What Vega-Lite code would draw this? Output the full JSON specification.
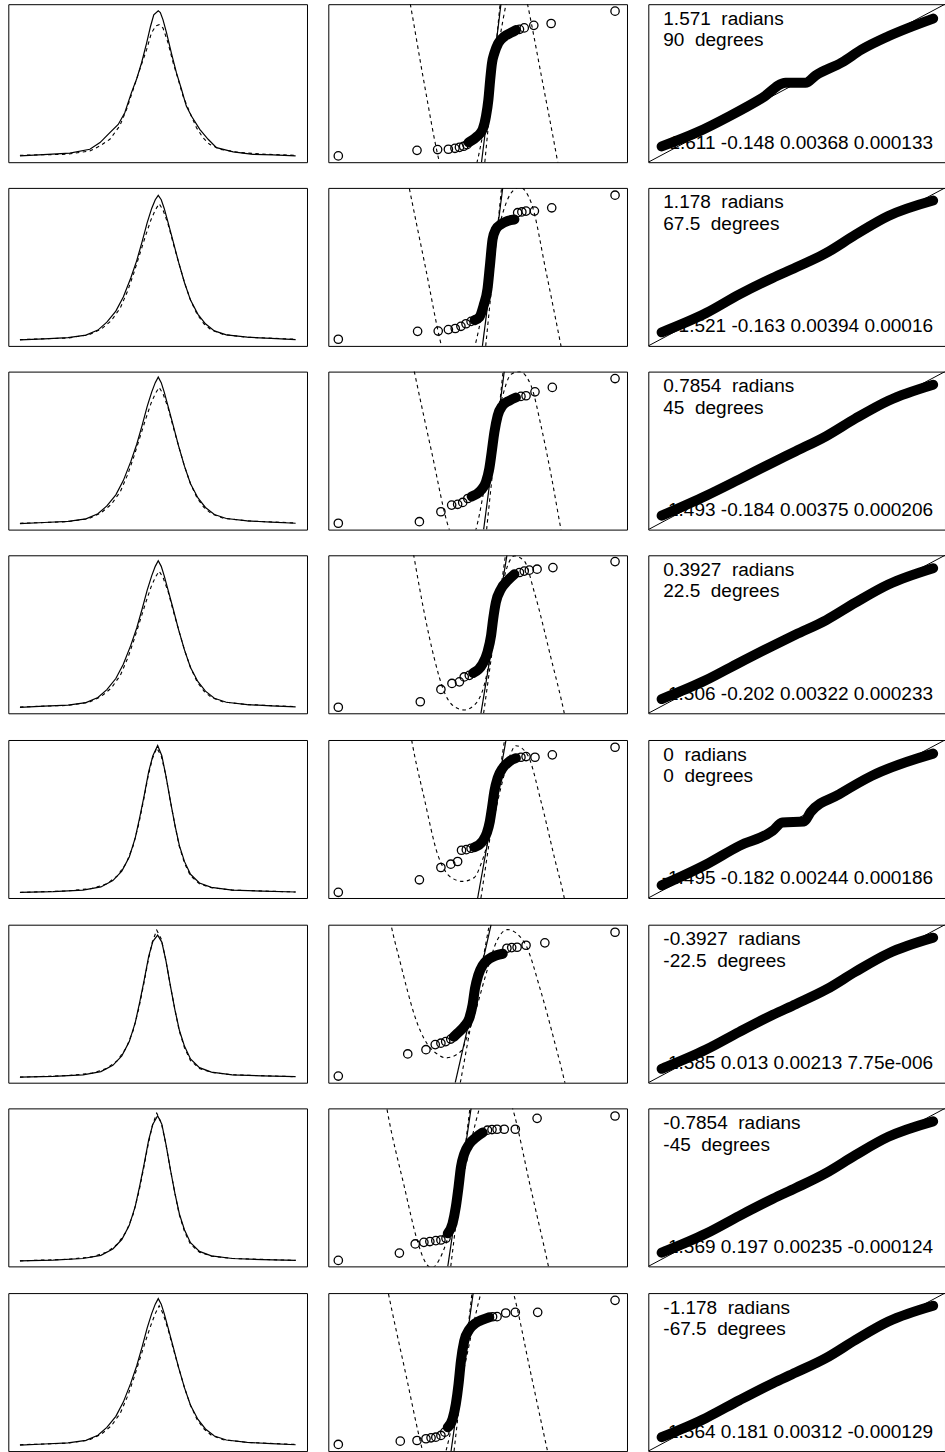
{
"$schema": "https://vega.github.io/schema/vega-lite/v6.json",
"background": "white",
"padding": {"left": 7.3, "top": 3.2, "right": 0, "bottom": 0},
"spacing": 23.7,
"config": {"view": {"stroke": "#000", "strokeWidth": 1}, "line": {"color": "#000"}, "point": {"color": "#000"}, "text": {"font": "Liberation Sans", "fontSize": 19, "baseline": "alphabetic", "color": "#000"}},
"datasets": {
"c1": [
{"r":1,"k":"s","x":0.039,"y":0.040},{"r":1,"k":"s","x":0.117,"y":0.048},{"r":1,"k":"s","x":0.206,"y":0.057},{"r":1,"k":"s","x":0.273,"y":0.082},{"r":1,"k":"s","x":0.307,"y":0.124},{"r":1,"k":"s","x":0.34,"y":0.187},{"r":1,"k":"s","x":0.368,"y":0.239},{"r":1,"k":"s","x":0.39,"y":0.313},{"r":1,"k":"s","x":0.412,"y":0.439},{"r":1,"k":"s","x":0.429,"y":0.523},{"r":1,"k":"s","x":0.446,"y":0.628},{"r":1,"k":"s","x":0.463,"y":0.754},{"r":1,"k":"s","x":0.476,"y":0.859},{"r":1,"k":"s","x":0.487,"y":0.933},{"r":1,"k":"s","x":0.502,"y":0.958},{"r":1,"k":"s","x":0.509,"y":0.947},{"r":1,"k":"s","x":0.518,"y":0.901},{"r":1,"k":"s","x":0.53,"y":0.817},{"r":1,"k":"s","x":0.546,"y":0.691},{"r":1,"k":"s","x":0.563,"y":0.565},{"r":1,"k":"s","x":0.58,"y":0.46},{"r":1,"k":"s","x":0.596,"y":0.355},{"r":1,"k":"s","x":0.613,"y":0.292},{"r":1,"k":"s","x":0.641,"y":0.208},{"r":1,"k":"s","x":0.669,"y":0.145},{"r":1,"k":"s","x":0.697,"y":0.092},{"r":1,"k":"s","x":0.753,"y":0.065},{"r":1,"k":"s","x":0.819,"y":0.05},{"r":1,"k":"s","x":0.886,"y":0.046},{"r":1,"k":"s","x":0.962,"y":0.04},
{"r":1,"k":"d","x":0.039,"y":0.044},{"r":1,"k":"d","x":0.195,"y":0.05},{"r":1,"k":"d","x":0.273,"y":0.071},{"r":1,"k":"d","x":0.307,"y":0.103},{"r":1,"k":"d","x":0.34,"y":0.145},{"r":1,"k":"d","x":0.373,"y":0.229},{"r":1,"k":"d","x":0.396,"y":0.334},{"r":1,"k":"d","x":0.418,"y":0.46},{"r":1,"k":"d","x":0.44,"y":0.586},{"r":1,"k":"d","x":0.463,"y":0.712},{"r":1,"k":"d","x":0.479,"y":0.817},{"r":1,"k":"d","x":0.494,"y":0.863},{"r":1,"k":"d","x":0.505,"y":0.87},{"r":1,"k":"d","x":0.518,"y":0.849},{"r":1,"k":"d","x":0.535,"y":0.754},{"r":1,"k":"d","x":0.552,"y":0.628},{"r":1,"k":"d","x":0.569,"y":0.523},{"r":1,"k":"d","x":0.585,"y":0.418},{"r":1,"k":"d","x":0.608,"y":0.313},{"r":1,"k":"d","x":0.63,"y":0.218},{"r":1,"k":"d","x":0.652,"y":0.155},{"r":1,"k":"d","x":0.674,"y":0.113},{"r":1,"k":"d","x":0.708,"y":0.082},{"r":1,"k":"d","x":0.775,"y":0.061},{"r":1,"k":"d","x":0.864,"y":0.05},{"r":1,"k":"d","x":0.962,"y":0.044},

{"r":2,"k":"s","x":0.039,"y":0.038},{"r":2,"k":"s","x":0.12,"y":0.045},{"r":2,"k":"s","x":0.2,"y":0.052},{"r":2,"k":"s","x":0.26,"y":0.068},{"r":2,"k":"s","x":0.3,"y":0.1},{"r":2,"k":"s","x":0.33,"y":0.15},{"r":2,"k":"s","x":0.36,"y":0.22},{"r":2,"k":"s","x":0.385,"y":0.31},{"r":2,"k":"s","x":0.41,"y":0.43},{"r":2,"k":"s","x":0.43,"y":0.54},{"r":2,"k":"s","x":0.448,"y":0.66},{"r":2,"k":"s","x":0.465,"y":0.78},{"r":2,"k":"s","x":0.48,"y":0.87},{"r":2,"k":"s","x":0.492,"y":0.925},{"r":2,"k":"s","x":0.502,"y":0.953},{"r":2,"k":"s","x":0.512,"y":0.925},{"r":2,"k":"s","x":0.522,"y":0.87},{"r":2,"k":"s","x":0.535,"y":0.78},{"r":2,"k":"s","x":0.552,"y":0.66},{"r":2,"k":"s","x":0.57,"y":0.53},{"r":2,"k":"s","x":0.59,"y":0.4},{"r":2,"k":"s","x":0.61,"y":0.29},{"r":2,"k":"s","x":0.635,"y":0.2},{"r":2,"k":"s","x":0.66,"y":0.14},{"r":2,"k":"s","x":0.69,"y":0.095},{"r":2,"k":"s","x":0.73,"y":0.07},{"r":2,"k":"s","x":0.8,"y":0.055},{"r":2,"k":"s","x":0.88,"y":0.047},{"r":2,"k":"s","x":0.962,"y":0.04},
{"r":2,"k":"d","x":0.039,"y":0.04},{"r":2,"k":"d","x":0.2,"y":0.05},{"r":2,"k":"d","x":0.27,"y":0.07},{"r":2,"k":"d","x":0.31,"y":0.105},{"r":2,"k":"d","x":0.345,"y":0.16},{"r":2,"k":"d","x":0.375,"y":0.24},{"r":2,"k":"d","x":0.4,"y":0.35},{"r":2,"k":"d","x":0.42,"y":0.46},{"r":2,"k":"d","x":0.44,"y":0.58},{"r":2,"k":"d","x":0.46,"y":0.7},{"r":2,"k":"d","x":0.478,"y":0.8},{"r":2,"k":"d","x":0.492,"y":0.86},{"r":2,"k":"d","x":0.505,"y":0.9},{"r":2,"k":"d","x":0.518,"y":0.86},{"r":2,"k":"d","x":0.535,"y":0.77},{"r":2,"k":"d","x":0.552,"y":0.65},{"r":2,"k":"d","x":0.57,"y":0.53},{"r":2,"k":"d","x":0.59,"y":0.4},{"r":2,"k":"d","x":0.61,"y":0.29},{"r":2,"k":"d","x":0.632,"y":0.2},{"r":2,"k":"d","x":0.655,"y":0.14},{"r":2,"k":"d","x":0.68,"y":0.1},{"r":2,"k":"d","x":0.72,"y":0.072},{"r":2,"k":"d","x":0.8,"y":0.055},{"r":2,"k":"d","x":0.962,"y":0.042},

{"r":3,"k":"s","x":0.039,"y":0.038},{"r":3,"k":"s","x":0.12,"y":0.045},{"r":3,"k":"s","x":0.2,"y":0.052},{"r":3,"k":"s","x":0.26,"y":0.068},{"r":3,"k":"s","x":0.3,"y":0.1},{"r":3,"k":"s","x":0.33,"y":0.15},{"r":3,"k":"s","x":0.36,"y":0.22},{"r":3,"k":"s","x":0.385,"y":0.31},{"r":3,"k":"s","x":0.41,"y":0.43},{"r":3,"k":"s","x":0.43,"y":0.54},{"r":3,"k":"s","x":0.448,"y":0.66},{"r":3,"k":"s","x":0.465,"y":0.78},{"r":3,"k":"s","x":0.48,"y":0.87},{"r":3,"k":"s","x":0.492,"y":0.93},{"r":3,"k":"s","x":0.502,"y":0.965},{"r":3,"k":"s","x":0.512,"y":0.93},{"r":3,"k":"s","x":0.522,"y":0.87},{"r":3,"k":"s","x":0.535,"y":0.78},{"r":3,"k":"s","x":0.552,"y":0.66},{"r":3,"k":"s","x":0.57,"y":0.53},{"r":3,"k":"s","x":0.59,"y":0.4},{"r":3,"k":"s","x":0.61,"y":0.29},{"r":3,"k":"s","x":0.635,"y":0.2},{"r":3,"k":"s","x":0.66,"y":0.14},{"r":3,"k":"s","x":0.69,"y":0.095},{"r":3,"k":"s","x":0.73,"y":0.07},{"r":3,"k":"s","x":0.8,"y":0.055},{"r":3,"k":"s","x":0.88,"y":0.047},{"r":3,"k":"s","x":0.962,"y":0.04},
{"r":3,"k":"d","x":0.039,"y":0.04},{"r":3,"k":"d","x":0.2,"y":0.05},{"r":3,"k":"d","x":0.27,"y":0.07},{"r":3,"k":"d","x":0.31,"y":0.105},{"r":3,"k":"d","x":0.345,"y":0.16},{"r":3,"k":"d","x":0.375,"y":0.24},{"r":3,"k":"d","x":0.4,"y":0.35},{"r":3,"k":"d","x":0.42,"y":0.46},{"r":3,"k":"d","x":0.44,"y":0.58},{"r":3,"k":"d","x":0.46,"y":0.7},{"r":3,"k":"d","x":0.478,"y":0.8},{"r":3,"k":"d","x":0.492,"y":0.86},{"r":3,"k":"d","x":0.505,"y":0.9},{"r":3,"k":"d","x":0.518,"y":0.86},{"r":3,"k":"d","x":0.535,"y":0.77},{"r":3,"k":"d","x":0.552,"y":0.65},{"r":3,"k":"d","x":0.57,"y":0.53},{"r":3,"k":"d","x":0.59,"y":0.4},{"r":3,"k":"d","x":0.61,"y":0.29},{"r":3,"k":"d","x":0.632,"y":0.2},{"r":3,"k":"d","x":0.655,"y":0.14},{"r":3,"k":"d","x":0.68,"y":0.1},{"r":3,"k":"d","x":0.72,"y":0.072},{"r":3,"k":"d","x":0.8,"y":0.055},{"r":3,"k":"d","x":0.962,"y":0.042},

{"r":4,"k":"s","x":0.039,"y":0.038},{"r":4,"k":"s","x":0.12,"y":0.045},{"r":4,"k":"s","x":0.2,"y":0.052},{"r":4,"k":"s","x":0.26,"y":0.068},{"r":4,"k":"s","x":0.3,"y":0.1},{"r":4,"k":"s","x":0.33,"y":0.15},{"r":4,"k":"s","x":0.36,"y":0.22},{"r":4,"k":"s","x":0.385,"y":0.31},{"r":4,"k":"s","x":0.41,"y":0.43},{"r":4,"k":"s","x":0.43,"y":0.54},{"r":4,"k":"s","x":0.448,"y":0.66},{"r":4,"k":"s","x":0.465,"y":0.78},{"r":4,"k":"s","x":0.48,"y":0.87},{"r":4,"k":"s","x":0.492,"y":0.93},{"r":4,"k":"s","x":0.502,"y":0.965},{"r":4,"k":"s","x":0.512,"y":0.93},{"r":4,"k":"s","x":0.522,"y":0.87},{"r":4,"k":"s","x":0.535,"y":0.78},{"r":4,"k":"s","x":0.552,"y":0.66},{"r":4,"k":"s","x":0.57,"y":0.53},{"r":4,"k":"s","x":0.59,"y":0.4},{"r":4,"k":"s","x":0.61,"y":0.29},{"r":4,"k":"s","x":0.635,"y":0.2},{"r":4,"k":"s","x":0.66,"y":0.14},{"r":4,"k":"s","x":0.69,"y":0.095},{"r":4,"k":"s","x":0.73,"y":0.07},{"r":4,"k":"s","x":0.8,"y":0.055},{"r":4,"k":"s","x":0.88,"y":0.047},{"r":4,"k":"s","x":0.962,"y":0.04},
{"r":4,"k":"d","x":0.039,"y":0.04},{"r":4,"k":"d","x":0.2,"y":0.05},{"r":4,"k":"d","x":0.27,"y":0.07},{"r":4,"k":"d","x":0.31,"y":0.105},{"r":4,"k":"d","x":0.345,"y":0.16},{"r":4,"k":"d","x":0.375,"y":0.24},{"r":4,"k":"d","x":0.4,"y":0.35},{"r":4,"k":"d","x":0.42,"y":0.46},{"r":4,"k":"d","x":0.44,"y":0.58},{"r":4,"k":"d","x":0.46,"y":0.7},{"r":4,"k":"d","x":0.478,"y":0.8},{"r":4,"k":"d","x":0.492,"y":0.86},{"r":4,"k":"d","x":0.505,"y":0.9},{"r":4,"k":"d","x":0.518,"y":0.86},{"r":4,"k":"d","x":0.535,"y":0.77},{"r":4,"k":"d","x":0.552,"y":0.65},{"r":4,"k":"d","x":0.57,"y":0.53},{"r":4,"k":"d","x":0.59,"y":0.4},{"r":4,"k":"d","x":0.61,"y":0.29},{"r":4,"k":"d","x":0.632,"y":0.2},{"r":4,"k":"d","x":0.655,"y":0.14},{"r":4,"k":"d","x":0.68,"y":0.1},{"r":4,"k":"d","x":0.72,"y":0.072},{"r":4,"k":"d","x":0.8,"y":0.055},{"r":4,"k":"d","x":0.962,"y":0.042},

{"r":5,"k":"s","x":0.039,"y":0.035},{"r":5,"k":"s","x":0.15,"y":0.04},{"r":5,"k":"s","x":0.25,"y":0.05},{"r":5,"k":"s","x":0.31,"y":0.07},{"r":5,"k":"s","x":0.35,"y":0.11},{"r":5,"k":"s","x":0.38,"y":0.17},{"r":5,"k":"s","x":0.405,"y":0.26},{"r":5,"k":"s","x":0.425,"y":0.38},{"r":5,"k":"s","x":0.44,"y":0.51},{"r":5,"k":"s","x":0.455,"y":0.65},{"r":5,"k":"s","x":0.47,"y":0.8},{"r":5,"k":"s","x":0.484,"y":0.9},{"r":5,"k":"s","x":0.5,"y":0.965},{"r":5,"k":"s","x":0.514,"y":0.9},{"r":5,"k":"s","x":0.528,"y":0.77},{"r":5,"k":"s","x":0.543,"y":0.61},{"r":5,"k":"s","x":0.558,"y":0.46},{"r":5,"k":"s","x":0.573,"y":0.33},{"r":5,"k":"s","x":0.59,"y":0.23},{"r":5,"k":"s","x":0.61,"y":0.15},{"r":5,"k":"s","x":0.64,"y":0.095},{"r":5,"k":"s","x":0.68,"y":0.067},{"r":5,"k":"s","x":0.75,"y":0.05},{"r":5,"k":"s","x":0.85,"y":0.043},{"r":5,"k":"s","x":0.962,"y":0.038},
{"r":5,"k":"d","x":0.039,"y":0.035},{"r":5,"k":"d","x":0.2,"y":0.045},{"r":5,"k":"d","x":0.28,"y":0.06},{"r":5,"k":"d","x":0.33,"y":0.09},{"r":5,"k":"d","x":0.365,"y":0.14},{"r":5,"k":"d","x":0.395,"y":0.22},{"r":5,"k":"d","x":0.418,"y":0.33},{"r":5,"k":"d","x":0.437,"y":0.47},{"r":5,"k":"d","x":0.452,"y":0.61},{"r":5,"k":"d","x":0.467,"y":0.76},{"r":5,"k":"d","x":0.482,"y":0.88},{"r":5,"k":"d","x":0.497,"y":0.95},{"r":5,"k":"d","x":0.512,"y":0.9},{"r":5,"k":"d","x":0.527,"y":0.78},{"r":5,"k":"d","x":0.542,"y":0.62},{"r":5,"k":"d","x":0.557,"y":0.47},{"r":5,"k":"d","x":0.572,"y":0.33},{"r":5,"k":"d","x":0.59,"y":0.22},{"r":5,"k":"d","x":0.61,"y":0.14},{"r":5,"k":"d","x":0.64,"y":0.09},{"r":5,"k":"d","x":0.68,"y":0.065},{"r":5,"k":"d","x":0.75,"y":0.05},{"r":5,"k":"d","x":0.962,"y":0.038},

{"r":6,"k":"s","x":0.039,"y":0.035},{"r":6,"k":"s","x":0.15,"y":0.04},{"r":6,"k":"s","x":0.25,"y":0.05},{"r":6,"k":"s","x":0.31,"y":0.07},{"r":6,"k":"s","x":0.35,"y":0.11},{"r":6,"k":"s","x":0.38,"y":0.17},{"r":6,"k":"s","x":0.405,"y":0.26},{"r":6,"k":"s","x":0.425,"y":0.38},{"r":6,"k":"s","x":0.44,"y":0.51},{"r":6,"k":"s","x":0.455,"y":0.65},{"r":6,"k":"s","x":0.47,"y":0.8},{"r":6,"k":"s","x":0.484,"y":0.895},{"r":6,"k":"s","x":0.5,"y":0.934},{"r":6,"k":"s","x":0.514,"y":0.89},{"r":6,"k":"s","x":0.528,"y":0.77},{"r":6,"k":"s","x":0.543,"y":0.61},{"r":6,"k":"s","x":0.558,"y":0.46},{"r":6,"k":"s","x":0.573,"y":0.33},{"r":6,"k":"s","x":0.59,"y":0.23},{"r":6,"k":"s","x":0.61,"y":0.15},{"r":6,"k":"s","x":0.64,"y":0.095},{"r":6,"k":"s","x":0.68,"y":0.067},{"r":6,"k":"s","x":0.75,"y":0.05},{"r":6,"k":"s","x":0.85,"y":0.043},{"r":6,"k":"s","x":0.962,"y":0.038},
{"r":6,"k":"d","x":0.039,"y":0.035},{"r":6,"k":"d","x":0.2,"y":0.045},{"r":6,"k":"d","x":0.28,"y":0.06},{"r":6,"k":"d","x":0.33,"y":0.09},{"r":6,"k":"d","x":0.365,"y":0.14},{"r":6,"k":"d","x":0.395,"y":0.22},{"r":6,"k":"d","x":0.418,"y":0.33},{"r":6,"k":"d","x":0.437,"y":0.47},{"r":6,"k":"d","x":0.452,"y":0.61},{"r":6,"k":"d","x":0.467,"y":0.76},{"r":6,"k":"d","x":0.482,"y":0.89},{"r":6,"k":"d","x":0.497,"y":0.965},{"r":6,"k":"d","x":0.512,"y":0.91},{"r":6,"k":"d","x":0.527,"y":0.78},{"r":6,"k":"d","x":0.542,"y":0.62},{"r":6,"k":"d","x":0.557,"y":0.47},{"r":6,"k":"d","x":0.572,"y":0.33},{"r":6,"k":"d","x":0.59,"y":0.22},{"r":6,"k":"d","x":0.61,"y":0.14},{"r":6,"k":"d","x":0.64,"y":0.09},{"r":6,"k":"d","x":0.68,"y":0.065},{"r":6,"k":"d","x":0.75,"y":0.05},{"r":6,"k":"d","x":0.962,"y":0.038},

{"r":7,"k":"s","x":0.039,"y":0.035},{"r":7,"k":"s","x":0.15,"y":0.04},{"r":7,"k":"s","x":0.25,"y":0.05},{"r":7,"k":"s","x":0.31,"y":0.07},{"r":7,"k":"s","x":0.35,"y":0.11},{"r":7,"k":"s","x":0.38,"y":0.17},{"r":7,"k":"s","x":0.405,"y":0.26},{"r":7,"k":"s","x":0.425,"y":0.38},{"r":7,"k":"s","x":0.44,"y":0.51},{"r":7,"k":"s","x":0.455,"y":0.65},{"r":7,"k":"s","x":0.47,"y":0.8},{"r":7,"k":"s","x":0.484,"y":0.9},{"r":7,"k":"s","x":0.5,"y":0.953},{"r":7,"k":"s","x":0.514,"y":0.9},{"r":7,"k":"s","x":0.528,"y":0.77},{"r":7,"k":"s","x":0.543,"y":0.61},{"r":7,"k":"s","x":0.558,"y":0.46},{"r":7,"k":"s","x":0.573,"y":0.33},{"r":7,"k":"s","x":0.59,"y":0.23},{"r":7,"k":"s","x":0.61,"y":0.15},{"r":7,"k":"s","x":0.64,"y":0.095},{"r":7,"k":"s","x":0.68,"y":0.067},{"r":7,"k":"s","x":0.75,"y":0.05},{"r":7,"k":"s","x":0.85,"y":0.043},{"r":7,"k":"s","x":0.962,"y":0.038},
{"r":7,"k":"d","x":0.039,"y":0.035},{"r":7,"k":"d","x":0.2,"y":0.045},{"r":7,"k":"d","x":0.28,"y":0.06},{"r":7,"k":"d","x":0.33,"y":0.09},{"r":7,"k":"d","x":0.365,"y":0.14},{"r":7,"k":"d","x":0.395,"y":0.22},{"r":7,"k":"d","x":0.418,"y":0.33},{"r":7,"k":"d","x":0.437,"y":0.47},{"r":7,"k":"d","x":0.452,"y":0.61},{"r":7,"k":"d","x":0.467,"y":0.76},{"r":7,"k":"d","x":0.482,"y":0.89},{"r":7,"k":"d","x":0.497,"y":0.97},{"r":7,"k":"d","x":0.512,"y":0.91},{"r":7,"k":"d","x":0.527,"y":0.78},{"r":7,"k":"d","x":0.542,"y":0.62},{"r":7,"k":"d","x":0.557,"y":0.47},{"r":7,"k":"d","x":0.572,"y":0.33},{"r":7,"k":"d","x":0.59,"y":0.22},{"r":7,"k":"d","x":0.61,"y":0.14},{"r":7,"k":"d","x":0.64,"y":0.09},{"r":7,"k":"d","x":0.68,"y":0.065},{"r":7,"k":"d","x":0.75,"y":0.05},{"r":7,"k":"d","x":0.962,"y":0.038},

{"r":8,"k":"s","x":0.039,"y":0.038},{"r":8,"k":"s","x":0.12,"y":0.045},{"r":8,"k":"s","x":0.2,"y":0.052},{"r":8,"k":"s","x":0.26,"y":0.068},{"r":8,"k":"s","x":0.3,"y":0.1},{"r":8,"k":"s","x":0.33,"y":0.15},{"r":8,"k":"s","x":0.36,"y":0.22},{"r":8,"k":"s","x":0.385,"y":0.31},{"r":8,"k":"s","x":0.41,"y":0.43},{"r":8,"k":"s","x":0.43,"y":0.54},{"r":8,"k":"s","x":0.448,"y":0.66},{"r":8,"k":"s","x":0.465,"y":0.78},{"r":8,"k":"s","x":0.48,"y":0.87},{"r":8,"k":"s","x":0.492,"y":0.93},{"r":8,"k":"s","x":0.502,"y":0.965},{"r":8,"k":"s","x":0.512,"y":0.93},{"r":8,"k":"s","x":0.522,"y":0.87},{"r":8,"k":"s","x":0.535,"y":0.78},{"r":8,"k":"s","x":0.552,"y":0.66},{"r":8,"k":"s","x":0.57,"y":0.53},{"r":8,"k":"s","x":0.59,"y":0.4},{"r":8,"k":"s","x":0.61,"y":0.29},{"r":8,"k":"s","x":0.635,"y":0.2},{"r":8,"k":"s","x":0.66,"y":0.14},{"r":8,"k":"s","x":0.69,"y":0.095},{"r":8,"k":"s","x":0.73,"y":0.07},{"r":8,"k":"s","x":0.8,"y":0.055},{"r":8,"k":"s","x":0.88,"y":0.047},{"r":8,"k":"s","x":0.962,"y":0.04},
{"r":8,"k":"d","x":0.039,"y":0.04},{"r":8,"k":"d","x":0.2,"y":0.05},{"r":8,"k":"d","x":0.27,"y":0.07},{"r":8,"k":"d","x":0.31,"y":0.105},{"r":8,"k":"d","x":0.345,"y":0.16},{"r":8,"k":"d","x":0.375,"y":0.24},{"r":8,"k":"d","x":0.4,"y":0.35},{"r":8,"k":"d","x":0.42,"y":0.46},{"r":8,"k":"d","x":0.44,"y":0.58},{"r":8,"k":"d","x":0.46,"y":0.7},{"r":8,"k":"d","x":0.478,"y":0.8},{"r":8,"k":"d","x":0.492,"y":0.87},{"r":8,"k":"d","x":0.505,"y":0.92},{"r":8,"k":"d","x":0.518,"y":0.87},{"r":8,"k":"d","x":0.535,"y":0.77},{"r":8,"k":"d","x":0.552,"y":0.65},{"r":8,"k":"d","x":0.57,"y":0.53},{"r":8,"k":"d","x":0.59,"y":0.4},{"r":8,"k":"d","x":0.61,"y":0.29},{"r":8,"k":"d","x":0.632,"y":0.2},{"r":8,"k":"d","x":0.655,"y":0.14},{"r":8,"k":"d","x":0.68,"y":0.1},{"r":8,"k":"d","x":0.72,"y":0.072},{"r":8,"k":"d","x":0.8,"y":0.055},{"r":8,"k":"d","x":0.962,"y":0.042}
],
"c2": [
{"r":1,"k":"p","x":0.0335,"y":0.04},{"r":1,"k":"p","x":0.297,"y":0.075},{"r":1,"k":"p","x":0.366,"y":0.08},{"r":1,"k":"p","x":0.402,"y":0.082},{"r":1,"k":"p","x":0.424,"y":0.088},{"r":1,"k":"p","x":0.439,"y":0.094},{"r":1,"k":"p","x":0.453,"y":0.101},{"r":1,"k":"p","x":0.464,"y":0.111},{"r":1,"k":"p","x":0.64,"y":0.841},{"r":1,"k":"p","x":0.656,"y":0.85},{"r":1,"k":"p","x":0.688,"y":0.866},{"r":1,"k":"p","x":0.746,"y":0.878},{"r":1,"k":"p","x":0.96,"y":0.956},
{"r":1,"k":"b","x":0.47,"y":0.125},{"r":1,"k":"b","x":0.5,"y":0.166},{"r":1,"k":"b","x":0.517,"y":0.208},{"r":1,"k":"b","x":0.528,"y":0.291},{"r":1,"k":"b","x":0.536,"y":0.396},{"r":1,"k":"b","x":0.542,"y":0.522},{"r":1,"k":"b","x":0.548,"y":0.627},{"r":1,"k":"b","x":0.556,"y":0.69},{"r":1,"k":"b","x":0.569,"y":0.753},{"r":1,"k":"b","x":0.589,"y":0.795},{"r":1,"k":"b","x":0.612,"y":0.82},{"r":1,"k":"b","x":0.628,"y":0.836},
{"r":1,"k":"l","x":0.513,"y":0},{"r":1,"k":"l","x":0.578,"y":1},{"r":1,"k":"m","x":0.524,"y":0},{"r":1,"k":"m","x":0.575,"y":1},
{"r":1,"k":"c","x":0.24,"y":1.35},{"r":1,"k":"c","x":0.2746,"y":1},{"r":1,"k":"c","x":0.321,"y":0.5},{"r":1,"k":"c","x":0.372,"y":0},{"r":1,"k":"c","x":0.435,"y":-0.33},{"r":1,"k":"c","x":0.498,"y":0},{"r":1,"k":"c","x":0.548,"y":0.5},{"r":1,"k":"c","x":0.595,"y":1},{"r":1,"k":"c","x":0.632,"y":1.3},{"r":1,"k":"c","x":0.667,"y":1},{"r":1,"k":"c","x":0.718,"y":0.5},{"r":1,"k":"c","x":0.768,"y":0},{"r":1,"k":"c","x":0.8,"y":-0.35},

{"r":2,"k":"p","x":0.0335,"y":0.042},{"r":2,"k":"p","x":0.299,"y":0.092},{"r":2,"k":"p","x":0.368,"y":0.094},{"r":2,"k":"p","x":0.402,"y":0.103},{"r":2,"k":"p","x":0.425,"y":0.11},{"r":2,"k":"p","x":0.444,"y":0.124},{"r":2,"k":"p","x":0.461,"y":0.14},{"r":2,"k":"p","x":0.478,"y":0.155},{"r":2,"k":"p","x":0.634,"y":0.843},{"r":2,"k":"p","x":0.648,"y":0.848},{"r":2,"k":"p","x":0.662,"y":0.853},{"r":2,"k":"p","x":0.69,"y":0.853},{"r":2,"k":"p","x":0.748,"y":0.874},{"r":2,"k":"p","x":0.96,"y":0.954},
{"r":2,"k":"b","x":0.49,"y":0.163},{"r":2,"k":"b","x":0.506,"y":0.182},{"r":2,"k":"b","x":0.52,"y":0.256},{"r":2,"k":"b","x":0.533,"y":0.361},{"r":2,"k":"b","x":0.541,"y":0.507},{"r":2,"k":"b","x":0.55,"y":0.675},{"r":2,"k":"b","x":0.561,"y":0.738},{"r":2,"k":"b","x":0.578,"y":0.77},{"r":2,"k":"b","x":0.6,"y":0.791},{"r":2,"k":"b","x":0.623,"y":0.8},
{"r":2,"k":"l","x":0.516,"y":0},{"r":2,"k":"l","x":0.584,"y":1},{"r":2,"k":"m","x":0.527,"y":0},{"r":2,"k":"m","x":0.58,"y":1},
{"r":2,"k":"c","x":0.24,"y":1.3},{"r":2,"k":"c","x":0.271,"y":1},{"r":2,"k":"c","x":0.325,"y":0.5},{"r":2,"k":"c","x":0.379,"y":0},{"r":2,"k":"c","x":0.435,"y":-0.3},{"r":2,"k":"c","x":0.491,"y":0},{"r":2,"k":"c","x":0.54,"y":0.45},{"r":2,"k":"c","x":0.578,"y":0.8},{"r":2,"k":"c","x":0.611,"y":0.965},{"r":2,"k":"c","x":0.64,"y":1.005},{"r":2,"k":"c","x":0.679,"y":0.908},{"r":2,"k":"c","x":0.73,"y":0.46},{"r":2,"k":"c","x":0.779,"y":0},{"r":2,"k":"c","x":0.81,"y":-0.3},

{"r":3,"k":"p","x":0.0335,"y":0.04},{"r":3,"k":"p","x":0.305,"y":0.05},{"r":3,"k":"p","x":0.377,"y":0.113},{"r":3,"k":"p","x":0.413,"y":0.155},{"r":3,"k":"p","x":0.433,"y":0.16},{"r":3,"k":"p","x":0.45,"y":0.172},{"r":3,"k":"p","x":0.467,"y":0.197},{"r":3,"k":"p","x":0.645,"y":0.843},{"r":3,"k":"p","x":0.662,"y":0.847},{"r":3,"k":"p","x":0.692,"y":0.872},{"r":3,"k":"p","x":0.75,"y":0.9},{"r":3,"k":"p","x":0.96,"y":0.956},
{"r":3,"k":"b","x":0.48,"y":0.21},{"r":3,"k":"b","x":0.511,"y":0.249},{"r":3,"k":"b","x":0.528,"y":0.302},{"r":3,"k":"b","x":0.539,"y":0.386},{"r":3,"k":"b","x":0.547,"y":0.49},{"r":3,"k":"b","x":0.556,"y":0.616},{"r":3,"k":"b","x":0.567,"y":0.721},{"r":3,"k":"b","x":0.583,"y":0.784},{"r":3,"k":"b","x":0.606,"y":0.816},{"r":3,"k":"b","x":0.628,"y":0.836},
{"r":3,"k":"l","x":0.52,"y":0},{"r":3,"k":"l","x":0.589,"y":1},{"r":3,"k":"m","x":0.53,"y":0},{"r":3,"k":"m","x":0.585,"y":1},
{"r":3,"k":"c","x":0.25,"y":1.35},{"r":3,"k":"c","x":0.288,"y":1},{"r":3,"k":"c","x":0.345,"y":0.5},{"r":3,"k":"c","x":0.405,"y":0},{"r":3,"k":"c","x":0.45,"y":-0.15},{"r":3,"k":"c","x":0.494,"y":0},{"r":3,"k":"c","x":0.54,"y":0.45},{"r":3,"k":"c","x":0.578,"y":0.805},{"r":3,"k":"c","x":0.612,"y":0.983},{"r":3,"k":"c","x":0.64,"y":1.0},{"r":3,"k":"c","x":0.679,"y":0.91},{"r":3,"k":"c","x":0.712,"y":0.658},{"r":3,"k":"c","x":0.746,"y":0.344},{"r":3,"k":"c","x":0.779,"y":0},{"r":3,"k":"c","x":0.81,"y":-0.3},

{"r":4,"k":"p","x":0.0335,"y":0.038},{"r":4,"k":"p","x":0.308,"y":0.073},{"r":4,"k":"p","x":0.377,"y":0.151},{"r":4,"k":"p","x":0.414,"y":0.189},{"r":4,"k":"p","x":0.439,"y":0.199},{"r":4,"k":"p","x":0.455,"y":0.23},{"r":4,"k":"p","x":0.472,"y":0.24},{"r":4,"k":"p","x":0.64,"y":0.891},{"r":4,"k":"p","x":0.656,"y":0.9},{"r":4,"k":"p","x":0.673,"y":0.906},{"r":4,"k":"p","x":0.699,"y":0.912},{"r":4,"k":"p","x":0.752,"y":0.922},{"r":4,"k":"p","x":0.96,"y":0.96},
{"r":4,"k":"b","x":0.485,"y":0.255},{"r":4,"k":"b","x":0.517,"y":0.314},{"r":4,"k":"b","x":0.533,"y":0.388},{"r":4,"k":"b","x":0.545,"y":0.493},{"r":4,"k":"b","x":0.552,"y":0.597},{"r":4,"k":"b","x":0.561,"y":0.702},{"r":4,"k":"b","x":0.578,"y":0.786},{"r":4,"k":"b","x":0.6,"y":0.839},{"r":4,"k":"b","x":0.623,"y":0.88},
{"r":4,"k":"l","x":0.511,"y":0},{"r":4,"k":"l","x":0.598,"y":1},{"r":4,"k":"m","x":0.52,"y":0},{"r":4,"k":"m","x":0.593,"y":1},
{"r":4,"k":"c","x":0.25,"y":1.4},{"r":4,"k":"c","x":0.286,"y":1},{"r":4,"k":"c","x":0.321,"y":0.639},{"r":4,"k":"c","x":0.355,"y":0.346},{"r":4,"k":"c","x":0.388,"y":0.136},{"r":4,"k":"c","x":0.42,"y":0.045},{"r":4,"k":"c","x":0.455,"y":0.021},{"r":4,"k":"c","x":0.489,"y":0.052},{"r":4,"k":"c","x":0.522,"y":0.178},{"r":4,"k":"c","x":0.545,"y":0.388},{"r":4,"k":"c","x":0.578,"y":0.765},{"r":4,"k":"c","x":0.6,"y":0.933},{"r":4,"k":"c","x":0.623,"y":0.996},{"r":4,"k":"c","x":0.656,"y":0.964},{"r":4,"k":"c","x":0.69,"y":0.765},{"r":4,"k":"c","x":0.746,"y":0.346},{"r":4,"k":"c","x":0.79,"y":0},{"r":4,"k":"c","x":0.82,"y":-0.3},

{"r":5,"k":"p","x":0.0335,"y":0.036},{"r":5,"k":"p","x":0.305,"y":0.115},{"r":5,"k":"p","x":0.377,"y":0.193},{"r":5,"k":"p","x":0.41,"y":0.214},{"r":5,"k":"p","x":0.433,"y":0.231},{"r":5,"k":"p","x":0.446,"y":0.302},{"r":5,"k":"p","x":0.462,"y":0.306},{"r":5,"k":"p","x":0.478,"y":0.315},{"r":5,"k":"p","x":0.645,"y":0.891},{"r":5,"k":"p","x":0.662,"y":0.895},{"r":5,"k":"p","x":0.692,"y":0.891},{"r":5,"k":"p","x":0.75,"y":0.906},{"r":5,"k":"p","x":0.96,"y":0.954},
{"r":5,"k":"b","x":0.49,"y":0.322},{"r":5,"k":"b","x":0.517,"y":0.361},{"r":5,"k":"b","x":0.531,"y":0.413},{"r":5,"k":"b","x":0.541,"y":0.486},{"r":5,"k":"b","x":0.548,"y":0.57},{"r":5,"k":"b","x":0.556,"y":0.675},{"r":5,"k":"b","x":0.567,"y":0.759},{"r":5,"k":"b","x":0.584,"y":0.822},{"r":5,"k":"b","x":0.606,"y":0.864},{"r":5,"k":"b","x":0.628,"y":0.885},
{"r":5,"k":"l","x":0.5,"y":0},{"r":5,"k":"l","x":0.595,"y":1},{"r":5,"k":"m","x":0.511,"y":0},{"r":5,"k":"m","x":0.59,"y":1},
{"r":5,"k":"c","x":0.25,"y":1.35},{"r":5,"k":"c","x":0.279,"y":1},{"r":5,"k":"c","x":0.321,"y":0.633},{"r":5,"k":"c","x":0.366,"y":0.277},{"r":5,"k":"c","x":0.411,"y":0.13},{"r":5,"k":"c","x":0.45,"y":0.105},{"r":5,"k":"c","x":0.489,"y":0.13},{"r":5,"k":"c","x":0.511,"y":0.214},{"r":5,"k":"c","x":0.545,"y":0.43},{"r":5,"k":"c","x":0.578,"y":0.7},{"r":5,"k":"c","x":0.606,"y":0.89},{"r":5,"k":"c","x":0.628,"y":0.964},{"r":5,"k":"c","x":0.667,"y":0.906},{"r":5,"k":"c","x":0.712,"y":0.612},{"r":5,"k":"c","x":0.757,"y":0.256},{"r":5,"k":"c","x":0.79,"y":0},{"r":5,"k":"c","x":0.82,"y":-0.3},

{"r":6,"k":"p","x":0.0335,"y":0.042},{"r":6,"k":"p","x":0.266,"y":0.182},{"r":6,"k":"p","x":0.327,"y":0.209},{"r":6,"k":"p","x":0.358,"y":0.241},{"r":6,"k":"p","x":0.377,"y":0.25},{"r":6,"k":"p","x":0.393,"y":0.26},{"r":6,"k":"p","x":0.41,"y":0.276},{"r":6,"k":"p","x":0.598,"y":0.851},{"r":6,"k":"p","x":0.614,"y":0.855},{"r":6,"k":"p","x":0.632,"y":0.857},{"r":6,"k":"p","x":0.662,"y":0.87},{"r":6,"k":"p","x":0.725,"y":0.885},{"r":6,"k":"p","x":0.96,"y":0.952},
{"r":6,"k":"b","x":0.42,"y":0.29},{"r":6,"k":"b","x":0.433,"y":0.314},{"r":6,"k":"b","x":0.455,"y":0.356},{"r":6,"k":"b","x":0.472,"y":0.408},{"r":6,"k":"b","x":0.483,"y":0.492},{"r":6,"k":"b","x":0.491,"y":0.596},{"r":6,"k":"b","x":0.502,"y":0.68},{"r":6,"k":"b","x":0.517,"y":0.743},{"r":6,"k":"b","x":0.539,"y":0.785},{"r":6,"k":"b","x":0.561,"y":0.805},{"r":6,"k":"b","x":0.584,"y":0.816},
{"r":6,"k":"l","x":0.425,"y":0},{"r":6,"k":"l","x":0.545,"y":1},{"r":6,"k":"m","x":0.442,"y":0},{"r":6,"k":"m","x":0.539,"y":1},
{"r":6,"k":"c","x":0.19,"y":1.2},{"r":6,"k":"c","x":0.21,"y":1},{"r":6,"k":"c","x":0.243,"y":0.745},{"r":6,"k":"c","x":0.266,"y":0.575},{"r":6,"k":"c","x":0.288,"y":0.43},{"r":6,"k":"c","x":0.31,"y":0.32},{"r":6,"k":"c","x":0.333,"y":0.24},{"r":6,"k":"c","x":0.366,"y":0.18},{"r":6,"k":"c","x":0.394,"y":0.157},{"r":6,"k":"c","x":0.444,"y":0.199},{"r":6,"k":"c","x":0.467,"y":0.303},{"r":6,"k":"c","x":0.5,"y":0.5},{"r":6,"k":"c","x":0.53,"y":0.7},{"r":6,"k":"c","x":0.565,"y":0.9},{"r":6,"k":"c","x":0.6,"y":0.969},{"r":6,"k":"c","x":0.656,"y":0.889},{"r":6,"k":"c","x":0.712,"y":0.575},{"r":6,"k":"c","x":0.757,"y":0.262},{"r":6,"k":"c","x":0.792,"y":0},{"r":6,"k":"c","x":0.82,"y":-0.25},

{"r":7,"k":"p","x":0.0335,"y":0.038},{"r":7,"k":"p","x":0.238,"y":0.084},{"r":7,"k":"p","x":0.291,"y":0.142},{"r":7,"k":"p","x":0.32,"y":0.152},{"r":7,"k":"p","x":0.34,"y":0.157},{"r":7,"k":"p","x":0.36,"y":0.163},{"r":7,"k":"p","x":0.377,"y":0.167},{"r":7,"k":"p","x":0.394,"y":0.178},{"r":7,"k":"p","x":0.533,"y":0.862},{"r":7,"k":"p","x":0.548,"y":0.866},{"r":7,"k":"p","x":0.565,"y":0.868},{"r":7,"k":"p","x":0.589,"y":0.868},{"r":7,"k":"p","x":0.626,"y":0.868},{"r":7,"k":"p","x":0.699,"y":0.937},{"r":7,"k":"p","x":0.96,"y":0.952},
{"r":7,"k":"b","x":0.4,"y":0.209},{"r":7,"k":"b","x":0.416,"y":0.272},{"r":7,"k":"b","x":0.427,"y":0.377},{"r":7,"k":"b","x":0.436,"y":0.502},{"r":7,"k":"b","x":0.444,"y":0.628},{"r":7,"k":"b","x":0.455,"y":0.711},{"r":7,"k":"b","x":0.472,"y":0.774},{"r":7,"k":"b","x":0.494,"y":0.816},{"r":7,"k":"b","x":0.517,"y":0.847},
{"r":7,"k":"l","x":0.4,"y":0},{"r":7,"k":"l","x":0.478,"y":1},{"r":7,"k":"m","x":0.41,"y":0},{"r":7,"k":"m","x":0.474,"y":1},
{"r":7,"k":"c","x":0.17,"y":1.3},{"r":7,"k":"c","x":0.196,"y":1},{"r":7,"k":"c","x":0.255,"y":0.5},{"r":7,"k":"c","x":0.3,"y":0.15},{"r":7,"k":"c","x":0.321,"y":0.04},{"r":7,"k":"c","x":0.346,"y":-0.01},{"r":7,"k":"c","x":0.377,"y":0.063},{"r":7,"k":"c","x":0.405,"y":0.21},{"r":7,"k":"c","x":0.455,"y":0.6},{"r":7,"k":"c","x":0.506,"y":1},{"r":7,"k":"c","x":0.56,"y":1.25},{"r":7,"k":"c","x":0.617,"y":1},{"r":7,"k":"c","x":0.677,"y":0.5},{"r":7,"k":"c","x":0.737,"y":0},{"r":7,"k":"c","x":0.77,"y":-0.3},

{"r":8,"k":"p","x":0.0335,"y":0.042},{"r":8,"k":"p","x":0.241,"y":0.063},{"r":8,"k":"p","x":0.297,"y":0.067},{"r":8,"k":"p","x":0.327,"y":0.078},{"r":8,"k":"p","x":0.344,"y":0.084},{"r":8,"k":"p","x":0.36,"y":0.088},{"r":8,"k":"p","x":0.377,"y":0.099},{"r":8,"k":"p","x":0.39,"y":0.12},{"r":8,"k":"p","x":0.55,"y":0.85},{"r":8,"k":"p","x":0.565,"y":0.851},{"r":8,"k":"p","x":0.594,"y":0.874},{"r":8,"k":"p","x":0.626,"y":0.878},{"r":8,"k":"p","x":0.701,"y":0.878},{"r":8,"k":"p","x":0.96,"y":0.954},
{"r":8,"k":"b","x":0.4,"y":0.151},{"r":8,"k":"b","x":0.416,"y":0.203},{"r":8,"k":"b","x":0.427,"y":0.298},{"r":8,"k":"b","x":0.436,"y":0.423},{"r":8,"k":"b","x":0.444,"y":0.57},{"r":8,"k":"b","x":0.455,"y":0.696},{"r":8,"k":"b","x":0.472,"y":0.769},{"r":8,"k":"b","x":0.494,"y":0.811},{"r":8,"k":"b","x":0.517,"y":0.832},{"r":8,"k":"b","x":0.539,"y":0.847},
{"r":8,"k":"l","x":0.411,"y":0},{"r":8,"k":"l","x":0.485,"y":1},{"r":8,"k":"m","x":0.421,"y":0},{"r":8,"k":"m","x":0.481,"y":1},
{"r":8,"k":"c","x":0.17,"y":1.3},{"r":8,"k":"c","x":0.201,"y":1},{"r":8,"k":"c","x":0.258,"y":0.5},{"r":8,"k":"c","x":0.316,"y":0},{"r":8,"k":"c","x":0.355,"y":-0.25},{"r":8,"k":"c","x":0.394,"y":0},{"r":8,"k":"c","x":0.452,"y":0.5},{"r":8,"k":"c","x":0.511,"y":1},{"r":8,"k":"c","x":0.565,"y":1.3},{"r":8,"k":"c","x":0.62,"y":1},{"r":8,"k":"c","x":0.677,"y":0.5},{"r":8,"k":"c","x":0.734,"y":0},{"r":8,"k":"c","x":0.77,"y":-0.3}
],
"c3": [
{"r":1,"k":"t1","label":"1.571\u00a0 radians"},{"r":1,"k":"t2","label":"90\u00a0 degrees"},{"r":1,"k":"t3","label":"-1.611 -0.148 0.00368 0.000133"},
{"r":2,"k":"t1","label":"1.178\u00a0 radians"},{"r":2,"k":"t2","label":"67.5\u00a0 degrees"},{"r":2,"k":"t3","label":"-1.521 -0.163 0.00394 0.00016"},
{"r":3,"k":"t1","label":"0.7854\u00a0 radians"},{"r":3,"k":"t2","label":"45\u00a0 degrees"},{"r":3,"k":"t3","label":"-1.493 -0.184 0.00375 0.000206"},
{"r":4,"k":"t1","label":"0.3927\u00a0 radians"},{"r":4,"k":"t2","label":"22.5\u00a0 degrees"},{"r":4,"k":"t3","label":"-1.506 -0.202 0.00322 0.000233"},
{"r":5,"k":"t1","label":"0\u00a0 radians"},{"r":5,"k":"t2","label":"0\u00a0 degrees"},{"r":5,"k":"t3","label":"-1.495 -0.182 0.00244 0.000186"},
{"r":6,"k":"t1","label":"-0.3927\u00a0 radians"},{"r":6,"k":"t2","label":"-22.5\u00a0 degrees"},{"r":6,"k":"t3","label":"-1.585 0.013 0.00213 7.75e-006"},
{"r":7,"k":"t1","label":"-0.7854\u00a0 radians"},{"r":7,"k":"t2","label":"-45\u00a0 degrees"},{"r":7,"k":"t3","label":"-1.569 0.197 0.00235 -0.000124"},
{"r":8,"k":"t1","label":"-1.178\u00a0 radians"},{"r":8,"k":"t2","label":"-67.5\u00a0 degrees"},{"r":8,"k":"t3","label":"-1.564 0.181 0.00312 -0.000129"},
{"r":1,"k":"d","x":0,"y":0},{"r":1,"k":"d","x":1,"y":1},{"r":2,"k":"d","x":0,"y":0},{"r":2,"k":"d","x":1,"y":1},{"r":3,"k":"d","x":0,"y":0},{"r":3,"k":"d","x":1,"y":1},{"r":4,"k":"d","x":0,"y":0},{"r":4,"k":"d","x":1,"y":1},{"r":5,"k":"d","x":0,"y":0},{"r":5,"k":"d","x":1,"y":1},{"r":6,"k":"d","x":0,"y":0},{"r":6,"k":"d","x":1,"y":1},{"r":7,"k":"d","x":0,"y":0},{"r":7,"k":"d","x":1,"y":1},{"r":8,"k":"d","x":0,"y":0},{"r":8,"k":"d","x":1,"y":1},
{"r":1,"k":"b","x":0.045,"y":0.1},{"r":1,"k":"b","x":0.162,"y":0.187},{"r":1,"k":"b","x":0.274,"y":0.292},{"r":1,"k":"b","x":0.385,"y":0.408},{"r":1,"k":"b","x":0.463,"y":0.503},{"r":1,"k":"b","x":0.53,"y":0.503},{"r":1,"k":"b","x":0.564,"y":0.549},{"r":1,"k":"b","x":0.652,"y":0.631},{"r":1,"k":"b","x":0.719,"y":0.713},{"r":1,"k":"b","x":0.809,"y":0.797},{"r":1,"k":"b","x":0.96,"y":0.909},
{"r":2,"k":"b","x":0.045,"y":0.086},{"r":2,"k":"b","x":0.195,"y":0.208},{"r":2,"k":"b","x":0.307,"y":0.326},{"r":2,"k":"b","x":0.419,"y":0.43},{"r":2,"k":"b","x":0.497,"y":0.496},{"r":2,"k":"b","x":0.597,"y":0.585},{"r":2,"k":"b","x":0.698,"y":0.703},{"r":2,"k":"b","x":0.809,"y":0.822},{"r":2,"k":"b","x":0.96,"y":0.92},
{"r":3,"k":"b","x":0.045,"y":0.088},{"r":3,"k":"b","x":0.195,"y":0.214},{"r":3,"k":"b","x":0.307,"y":0.318},{"r":3,"k":"b","x":0.42,"y":0.425},{"r":3,"k":"b","x":0.497,"y":0.496},{"r":3,"k":"b","x":0.6,"y":0.592},{"r":3,"k":"b","x":0.698,"y":0.703},{"r":3,"k":"b","x":0.809,"y":0.816},{"r":3,"k":"b","x":0.96,"y":0.917},
{"r":4,"k":"b","x":0.045,"y":0.09},{"r":4,"k":"b","x":0.195,"y":0.21},{"r":4,"k":"b","x":0.307,"y":0.32},{"r":4,"k":"b","x":0.42,"y":0.428},{"r":4,"k":"b","x":0.497,"y":0.498},{"r":4,"k":"b","x":0.6,"y":0.59},{"r":4,"k":"b","x":0.698,"y":0.7},{"r":4,"k":"b","x":0.809,"y":0.815},{"r":4,"k":"b","x":0.96,"y":0.918},
{"r":5,"k":"b","x":0.045,"y":0.08},{"r":5,"k":"b","x":0.195,"y":0.212},{"r":5,"k":"b","x":0.307,"y":0.33},{"r":5,"k":"b","x":0.419,"y":0.425},{"r":5,"k":"b","x":0.452,"y":0.478},{"r":5,"k":"b","x":0.525,"y":0.484},{"r":5,"k":"b","x":0.547,"y":0.543},{"r":5,"k":"b","x":0.642,"y":0.655},{"r":5,"k":"b","x":0.753,"y":0.773},{"r":5,"k":"b","x":0.96,"y":0.914},
{"r":6,"k":"b","x":0.045,"y":0.088},{"r":6,"k":"b","x":0.195,"y":0.21},{"r":6,"k":"b","x":0.307,"y":0.322},{"r":6,"k":"b","x":0.42,"y":0.43},{"r":6,"k":"b","x":0.497,"y":0.497},{"r":6,"k":"b","x":0.6,"y":0.59},{"r":6,"k":"b","x":0.698,"y":0.702},{"r":6,"k":"b","x":0.809,"y":0.818},{"r":6,"k":"b","x":0.96,"y":0.918},
{"r":7,"k":"b","x":0.045,"y":0.087},{"r":7,"k":"b","x":0.195,"y":0.208},{"r":7,"k":"b","x":0.307,"y":0.32},{"r":7,"k":"b","x":0.42,"y":0.428},{"r":7,"k":"b","x":0.497,"y":0.496},{"r":7,"k":"b","x":0.6,"y":0.592},{"r":7,"k":"b","x":0.698,"y":0.704},{"r":7,"k":"b","x":0.809,"y":0.82},{"r":7,"k":"b","x":0.96,"y":0.918},
{"r":8,"k":"b","x":0.045,"y":0.088},{"r":8,"k":"b","x":0.195,"y":0.21},{"r":8,"k":"b","x":0.307,"y":0.322},{"r":8,"k":"b","x":0.42,"y":0.43},{"r":8,"k":"b","x":0.497,"y":0.497},{"r":8,"k":"b","x":0.6,"y":0.59},{"r":8,"k":"b","x":0.698,"y":0.703},{"r":8,"k":"b","x":0.809,"y":0.82},{"r":8,"k":"b","x":0.96,"y":0.92}
]
},
"vconcat": [
{"spacing": 19, "hconcat": [
{"data": {"name": "c1"}, "transform": [{"filter": "datum.r === 1"}], "width": 298.7, "height": 158, "encoding": {"x": {"field": "x", "type": "quantitative", "scale": {"domain": [0, 1]}, "axis": null}, "y": {"field": "y", "type": "quantitative", "scale": {"domain": [0, 1]}, "axis": null}}, "layer": [{"transform": [{"filter": "datum.k === 'd'"}], "mark": {"type": "line", "strokeWidth": 1.1, "strokeDash": [3.5, 3.5]}}, {"transform": [{"filter": "datum.k === 's'"}], "mark": {"type": "line", "strokeWidth": 1.2}}]},
{"data": {"name": "c2"}, "transform": [{"filter": "datum.r === 1"}], "width": 298.7, "height": 158, "encoding": {"x": {"field": "x", "type": "quantitative", "scale": {"domain": [0, 1]}, "axis": null}, "y": {"field": "y", "type": "quantitative", "scale": {"domain": [0, 1]}, "axis": null}}, "layer": [{"transform": [{"filter": "datum.k === 'c'"}], "mark": {"type": "line", "strokeWidth": 1.1, "strokeDash": [3.5, 3.5], "interpolate": "monotone", "clip": true}}, {"transform": [{"filter": "datum.k === 'm'"}], "mark": {"type": "line", "strokeWidth": 1.1, "strokeDash": [3.5, 3.5], "clip": true}}, {"transform": [{"filter": "datum.k === 'l'"}], "mark": {"type": "line", "strokeWidth": 1.2, "clip": true}}, {"transform": [{"filter": "datum.k === 'b'"}], "mark": {"type": "line", "strokeWidth": 10, "strokeCap": "round", "strokeJoin": "round", "interpolate": "monotone"}}, {"transform": [{"filter": "datum.k === 'p'"}], "mark": {"type": "point", "shape": "circle", "filled": false, "size": 70, "strokeWidth": 1.3, "opacity": 1}}]},
{"data": {"name": "c3"}, "transform": [{"filter": "datum.r === 1"}], "width": 296.7, "height": 158, "layer": [{"transform": [{"filter": "datum.k === 'd'"}], "mark": {"type": "line", "strokeWidth": 1, "clip": true}, "encoding": {"x": {"field": "x", "type": "quantitative", "scale": {"domain": [0, 1]}, "axis": null}, "y": {"field": "y", "type": "quantitative", "scale": {"domain": [0, 1]}, "axis": null}}}, {"transform": [{"filter": "datum.k === 't1'"}], "mark": {"type": "text", "align": "left"}, "encoding": {"x": {"datum": 0.0506}, "y": {"datum": 0.87}, "text": {"field": "label"}}}, {"transform": [{"filter": "datum.k === 't2'"}], "mark": {"type": "text", "align": "left"}, "encoding": {"x": {"datum": 0.0506}, "y": {"datum": 0.733}, "text": {"field": "label"}}}, {"transform": [{"filter": "datum.k === 't3'"}], "mark": {"type": "text", "align": "right"}, "encoding": {"x": {"datum": 0.9596}, "y": {"datum": 0.0854}, "text": {"field": "label"}}}, {"transform": [{"filter": "datum.k === 'b'"}], "mark": {"type": "line", "strokeWidth": 10, "strokeCap": "round", "strokeJoin": "round", "interpolate": "monotone"}, "encoding": {"x": {"field": "x", "type": "quantitative"}, "y": {"field": "y", "type": "quantitative"}}}]}
]},
{"spacing": 19, "hconcat": [
{"data": {"name": "c1"}, "transform": [{"filter": "datum.r === 2"}], "width": 298.7, "height": 158, "encoding": {"x": {"field": "x", "type": "quantitative", "scale": {"domain": [0, 1]}, "axis": null}, "y": {"field": "y", "type": "quantitative", "scale": {"domain": [0, 1]}, "axis": null}}, "layer": [{"transform": [{"filter": "datum.k === 'd'"}], "mark": {"type": "line", "strokeWidth": 1.1, "strokeDash": [3.5, 3.5]}}, {"transform": [{"filter": "datum.k === 's'"}], "mark": {"type": "line", "strokeWidth": 1.2}}]},
{"data": {"name": "c2"}, "transform": [{"filter": "datum.r === 2"}], "width": 298.7, "height": 158, "encoding": {"x": {"field": "x", "type": "quantitative", "scale": {"domain": [0, 1]}, "axis": null}, "y": {"field": "y", "type": "quantitative", "scale": {"domain": [0, 1]}, "axis": null}}, "layer": [{"transform": [{"filter": "datum.k === 'c'"}], "mark": {"type": "line", "strokeWidth": 1.1, "strokeDash": [3.5, 3.5], "interpolate": "monotone", "clip": true}}, {"transform": [{"filter": "datum.k === 'm'"}], "mark": {"type": "line", "strokeWidth": 1.1, "strokeDash": [3.5, 3.5], "clip": true}}, {"transform": [{"filter": "datum.k === 'l'"}], "mark": {"type": "line", "strokeWidth": 1.2, "clip": true}}, {"transform": [{"filter": "datum.k === 'b'"}], "mark": {"type": "line", "strokeWidth": 10, "strokeCap": "round", "strokeJoin": "round", "interpolate": "monotone"}}, {"transform": [{"filter": "datum.k === 'p'"}], "mark": {"type": "point", "shape": "circle", "filled": false, "size": 70, "strokeWidth": 1.3, "opacity": 1}}]},
{"data": {"name": "c3"}, "transform": [{"filter": "datum.r === 2"}], "width": 296.7, "height": 158, "layer": [{"transform": [{"filter": "datum.k === 'd'"}], "mark": {"type": "line", "strokeWidth": 1, "clip": true}, "encoding": {"x": {"field": "x", "type": "quantitative", "scale": {"domain": [0, 1]}, "axis": null}, "y": {"field": "y", "type": "quantitative", "scale": {"domain": [0, 1]}, "axis": null}}}, {"transform": [{"filter": "datum.k === 't1'"}], "mark": {"type": "text", "align": "left"}, "encoding": {"x": {"datum": 0.0506}, "y": {"datum": 0.87}, "text": {"field": "label"}}}, {"transform": [{"filter": "datum.k === 't2'"}], "mark": {"type": "text", "align": "left"}, "encoding": {"x": {"datum": 0.0506}, "y": {"datum": 0.733}, "text": {"field": "label"}}}, {"transform": [{"filter": "datum.k === 't3'"}], "mark": {"type": "text", "align": "right"}, "encoding": {"x": {"datum": 0.9596}, "y": {"datum": 0.0854}, "text": {"field": "label"}}}, {"transform": [{"filter": "datum.k === 'b'"}], "mark": {"type": "line", "strokeWidth": 10, "strokeCap": "round", "strokeJoin": "round", "interpolate": "monotone"}, "encoding": {"x": {"field": "x", "type": "quantitative"}, "y": {"field": "y", "type": "quantitative"}}}]}
]},
{"spacing": 19, "hconcat": [
{"data": {"name": "c1"}, "transform": [{"filter": "datum.r === 3"}], "width": 298.7, "height": 158, "encoding": {"x": {"field": "x", "type": "quantitative", "scale": {"domain": [0, 1]}, "axis": null}, "y": {"field": "y", "type": "quantitative", "scale": {"domain": [0, 1]}, "axis": null}}, "layer": [{"transform": [{"filter": "datum.k === 'd'"}], "mark": {"type": "line", "strokeWidth": 1.1, "strokeDash": [3.5, 3.5]}}, {"transform": [{"filter": "datum.k === 's'"}], "mark": {"type": "line", "strokeWidth": 1.2}}]},
{"data": {"name": "c2"}, "transform": [{"filter": "datum.r === 3"}], "width": 298.7, "height": 158, "encoding": {"x": {"field": "x", "type": "quantitative", "scale": {"domain": [0, 1]}, "axis": null}, "y": {"field": "y", "type": "quantitative", "scale": {"domain": [0, 1]}, "axis": null}}, "layer": [{"transform": [{"filter": "datum.k === 'c'"}], "mark": {"type": "line", "strokeWidth": 1.1, "strokeDash": [3.5, 3.5], "interpolate": "monotone", "clip": true}}, {"transform": [{"filter": "datum.k === 'm'"}], "mark": {"type": "line", "strokeWidth": 1.1, "strokeDash": [3.5, 3.5], "clip": true}}, {"transform": [{"filter": "datum.k === 'l'"}], "mark": {"type": "line", "strokeWidth": 1.2, "clip": true}}, {"transform": [{"filter": "datum.k === 'b'"}], "mark": {"type": "line", "strokeWidth": 10, "strokeCap": "round", "strokeJoin": "round", "interpolate": "monotone"}}, {"transform": [{"filter": "datum.k === 'p'"}], "mark": {"type": "point", "shape": "circle", "filled": false, "size": 70, "strokeWidth": 1.3, "opacity": 1}}]},
{"data": {"name": "c3"}, "transform": [{"filter": "datum.r === 3"}], "width": 296.7, "height": 158, "layer": [{"transform": [{"filter": "datum.k === 'd'"}], "mark": {"type": "line", "strokeWidth": 1, "clip": true}, "encoding": {"x": {"field": "x", "type": "quantitative", "scale": {"domain": [0, 1]}, "axis": null}, "y": {"field": "y", "type": "quantitative", "scale": {"domain": [0, 1]}, "axis": null}}}, {"transform": [{"filter": "datum.k === 't1'"}], "mark": {"type": "text", "align": "left"}, "encoding": {"x": {"datum": 0.0506}, "y": {"datum": 0.87}, "text": {"field": "label"}}}, {"transform": [{"filter": "datum.k === 't2'"}], "mark": {"type": "text", "align": "left"}, "encoding": {"x": {"datum": 0.0506}, "y": {"datum": 0.733}, "text": {"field": "label"}}}, {"transform": [{"filter": "datum.k === 't3'"}], "mark": {"type": "text", "align": "right"}, "encoding": {"x": {"datum": 0.9596}, "y": {"datum": 0.0854}, "text": {"field": "label"}}}, {"transform": [{"filter": "datum.k === 'b'"}], "mark": {"type": "line", "strokeWidth": 10, "strokeCap": "round", "strokeJoin": "round", "interpolate": "monotone"}, "encoding": {"x": {"field": "x", "type": "quantitative"}, "y": {"field": "y", "type": "quantitative"}}}]}
]},
{"spacing": 19, "hconcat": [
{"data": {"name": "c1"}, "transform": [{"filter": "datum.r === 4"}], "width": 298.7, "height": 158, "encoding": {"x": {"field": "x", "type": "quantitative", "scale": {"domain": [0, 1]}, "axis": null}, "y": {"field": "y", "type": "quantitative", "scale": {"domain": [0, 1]}, "axis": null}}, "layer": [{"transform": [{"filter": "datum.k === 'd'"}], "mark": {"type": "line", "strokeWidth": 1.1, "strokeDash": [3.5, 3.5]}}, {"transform": [{"filter": "datum.k === 's'"}], "mark": {"type": "line", "strokeWidth": 1.2}}]},
{"data": {"name": "c2"}, "transform": [{"filter": "datum.r === 4"}], "width": 298.7, "height": 158, "encoding": {"x": {"field": "x", "type": "quantitative", "scale": {"domain": [0, 1]}, "axis": null}, "y": {"field": "y", "type": "quantitative", "scale": {"domain": [0, 1]}, "axis": null}}, "layer": [{"transform": [{"filter": "datum.k === 'c'"}], "mark": {"type": "line", "strokeWidth": 1.1, "strokeDash": [3.5, 3.5], "interpolate": "monotone", "clip": true}}, {"transform": [{"filter": "datum.k === 'm'"}], "mark": {"type": "line", "strokeWidth": 1.1, "strokeDash": [3.5, 3.5], "clip": true}}, {"transform": [{"filter": "datum.k === 'l'"}], "mark": {"type": "line", "strokeWidth": 1.2, "clip": true}}, {"transform": [{"filter": "datum.k === 'b'"}], "mark": {"type": "line", "strokeWidth": 10, "strokeCap": "round", "strokeJoin": "round", "interpolate": "monotone"}}, {"transform": [{"filter": "datum.k === 'p'"}], "mark": {"type": "point", "shape": "circle", "filled": false, "size": 70, "strokeWidth": 1.3, "opacity": 1}}]},
{"data": {"name": "c3"}, "transform": [{"filter": "datum.r === 4"}], "width": 296.7, "height": 158, "layer": [{"transform": [{"filter": "datum.k === 'd'"}], "mark": {"type": "line", "strokeWidth": 1, "clip": true}, "encoding": {"x": {"field": "x", "type": "quantitative", "scale": {"domain": [0, 1]}, "axis": null}, "y": {"field": "y", "type": "quantitative", "scale": {"domain": [0, 1]}, "axis": null}}}, {"transform": [{"filter": "datum.k === 't1'"}], "mark": {"type": "text", "align": "left"}, "encoding": {"x": {"datum": 0.0506}, "y": {"datum": 0.87}, "text": {"field": "label"}}}, {"transform": [{"filter": "datum.k === 't2'"}], "mark": {"type": "text", "align": "left"}, "encoding": {"x": {"datum": 0.0506}, "y": {"datum": 0.733}, "text": {"field": "label"}}}, {"transform": [{"filter": "datum.k === 't3'"}], "mark": {"type": "text", "align": "right"}, "encoding": {"x": {"datum": 0.9596}, "y": {"datum": 0.0854}, "text": {"field": "label"}}}, {"transform": [{"filter": "datum.k === 'b'"}], "mark": {"type": "line", "strokeWidth": 10, "strokeCap": "round", "strokeJoin": "round", "interpolate": "monotone"}, "encoding": {"x": {"field": "x", "type": "quantitative"}, "y": {"field": "y", "type": "quantitative"}}}]}
]},
{"spacing": 19, "hconcat": [
{"data": {"name": "c1"}, "transform": [{"filter": "datum.r === 5"}], "width": 298.7, "height": 158, "encoding": {"x": {"field": "x", "type": "quantitative", "scale": {"domain": [0, 1]}, "axis": null}, "y": {"field": "y", "type": "quantitative", "scale": {"domain": [0, 1]}, "axis": null}}, "layer": [{"transform": [{"filter": "datum.k === 'd'"}], "mark": {"type": "line", "strokeWidth": 1.1, "strokeDash": [3.5, 3.5]}}, {"transform": [{"filter": "datum.k === 's'"}], "mark": {"type": "line", "strokeWidth": 1.2}}]},
{"data": {"name": "c2"}, "transform": [{"filter": "datum.r === 5"}], "width": 298.7, "height": 158, "encoding": {"x": {"field": "x", "type": "quantitative", "scale": {"domain": [0, 1]}, "axis": null}, "y": {"field": "y", "type": "quantitative", "scale": {"domain": [0, 1]}, "axis": null}}, "layer": [{"transform": [{"filter": "datum.k === 'c'"}], "mark": {"type": "line", "strokeWidth": 1.1, "strokeDash": [3.5, 3.5], "interpolate": "monotone", "clip": true}}, {"transform": [{"filter": "datum.k === 'm'"}], "mark": {"type": "line", "strokeWidth": 1.1, "strokeDash": [3.5, 3.5], "clip": true}}, {"transform": [{"filter": "datum.k === 'l'"}], "mark": {"type": "line", "strokeWidth": 1.2, "clip": true}}, {"transform": [{"filter": "datum.k === 'b'"}], "mark": {"type": "line", "strokeWidth": 10, "strokeCap": "round", "strokeJoin": "round", "interpolate": "monotone"}}, {"transform": [{"filter": "datum.k === 'p'"}], "mark": {"type": "point", "shape": "circle", "filled": false, "size": 70, "strokeWidth": 1.3, "opacity": 1}}]},
{"data": {"name": "c3"}, "transform": [{"filter": "datum.r === 5"}], "width": 296.7, "height": 158, "layer": [{"transform": [{"filter": "datum.k === 'd'"}], "mark": {"type": "line", "strokeWidth": 1, "clip": true}, "encoding": {"x": {"field": "x", "type": "quantitative", "scale": {"domain": [0, 1]}, "axis": null}, "y": {"field": "y", "type": "quantitative", "scale": {"domain": [0, 1]}, "axis": null}}}, {"transform": [{"filter": "datum.k === 't1'"}], "mark": {"type": "text", "align": "left"}, "encoding": {"x": {"datum": 0.0506}, "y": {"datum": 0.87}, "text": {"field": "label"}}}, {"transform": [{"filter": "datum.k === 't2'"}], "mark": {"type": "text", "align": "left"}, "encoding": {"x": {"datum": 0.0506}, "y": {"datum": 0.733}, "text": {"field": "label"}}}, {"transform": [{"filter": "datum.k === 't3'"}], "mark": {"type": "text", "align": "right"}, "encoding": {"x": {"datum": 0.9596}, "y": {"datum": 0.0854}, "text": {"field": "label"}}}, {"transform": [{"filter": "datum.k === 'b'"}], "mark": {"type": "line", "strokeWidth": 10, "strokeCap": "round", "strokeJoin": "round", "interpolate": "monotone"}, "encoding": {"x": {"field": "x", "type": "quantitative"}, "y": {"field": "y", "type": "quantitative"}}}]}
]},
{"spacing": 19, "hconcat": [
{"data": {"name": "c1"}, "transform": [{"filter": "datum.r === 6"}], "width": 298.7, "height": 158, "encoding": {"x": {"field": "x", "type": "quantitative", "scale": {"domain": [0, 1]}, "axis": null}, "y": {"field": "y", "type": "quantitative", "scale": {"domain": [0, 1]}, "axis": null}}, "layer": [{"transform": [{"filter": "datum.k === 'd'"}], "mark": {"type": "line", "strokeWidth": 1.1, "strokeDash": [3.5, 3.5]}}, {"transform": [{"filter": "datum.k === 's'"}], "mark": {"type": "line", "strokeWidth": 1.2}}]},
{"data": {"name": "c2"}, "transform": [{"filter": "datum.r === 6"}], "width": 298.7, "height": 158, "encoding": {"x": {"field": "x", "type": "quantitative", "scale": {"domain": [0, 1]}, "axis": null}, "y": {"field": "y", "type": "quantitative", "scale": {"domain": [0, 1]}, "axis": null}}, "layer": [{"transform": [{"filter": "datum.k === 'c'"}], "mark": {"type": "line", "strokeWidth": 1.1, "strokeDash": [3.5, 3.5], "interpolate": "monotone", "clip": true}}, {"transform": [{"filter": "datum.k === 'm'"}], "mark": {"type": "line", "strokeWidth": 1.1, "strokeDash": [3.5, 3.5], "clip": true}}, {"transform": [{"filter": "datum.k === 'l'"}], "mark": {"type": "line", "strokeWidth": 1.2, "clip": true}}, {"transform": [{"filter": "datum.k === 'b'"}], "mark": {"type": "line", "strokeWidth": 10, "strokeCap": "round", "strokeJoin": "round", "interpolate": "monotone"}}, {"transform": [{"filter": "datum.k === 'p'"}], "mark": {"type": "point", "shape": "circle", "filled": false, "size": 70, "strokeWidth": 1.3, "opacity": 1}}]},
{"data": {"name": "c3"}, "transform": [{"filter": "datum.r === 6"}], "width": 296.7, "height": 158, "layer": [{"transform": [{"filter": "datum.k === 'd'"}], "mark": {"type": "line", "strokeWidth": 1, "clip": true}, "encoding": {"x": {"field": "x", "type": "quantitative", "scale": {"domain": [0, 1]}, "axis": null}, "y": {"field": "y", "type": "quantitative", "scale": {"domain": [0, 1]}, "axis": null}}}, {"transform": [{"filter": "datum.k === 't1'"}], "mark": {"type": "text", "align": "left"}, "encoding": {"x": {"datum": 0.0506}, "y": {"datum": 0.87}, "text": {"field": "label"}}}, {"transform": [{"filter": "datum.k === 't2'"}], "mark": {"type": "text", "align": "left"}, "encoding": {"x": {"datum": 0.0506}, "y": {"datum": 0.733}, "text": {"field": "label"}}}, {"transform": [{"filter": "datum.k === 't3'"}], "mark": {"type": "text", "align": "right"}, "encoding": {"x": {"datum": 0.9596}, "y": {"datum": 0.0854}, "text": {"field": "label"}}}, {"transform": [{"filter": "datum.k === 'b'"}], "mark": {"type": "line", "strokeWidth": 10, "strokeCap": "round", "strokeJoin": "round", "interpolate": "monotone"}, "encoding": {"x": {"field": "x", "type": "quantitative"}, "y": {"field": "y", "type": "quantitative"}}}]}
]},
{"spacing": 19, "hconcat": [
{"data": {"name": "c1"}, "transform": [{"filter": "datum.r === 7"}], "width": 298.7, "height": 158, "encoding": {"x": {"field": "x", "type": "quantitative", "scale": {"domain": [0, 1]}, "axis": null}, "y": {"field": "y", "type": "quantitative", "scale": {"domain": [0, 1]}, "axis": null}}, "layer": [{"transform": [{"filter": "datum.k === 'd'"}], "mark": {"type": "line", "strokeWidth": 1.1, "strokeDash": [3.5, 3.5]}}, {"transform": [{"filter": "datum.k === 's'"}], "mark": {"type": "line", "strokeWidth": 1.2}}]},
{"data": {"name": "c2"}, "transform": [{"filter": "datum.r === 7"}], "width": 298.7, "height": 158, "encoding": {"x": {"field": "x", "type": "quantitative", "scale": {"domain": [0, 1]}, "axis": null}, "y": {"field": "y", "type": "quantitative", "scale": {"domain": [0, 1]}, "axis": null}}, "layer": [{"transform": [{"filter": "datum.k === 'c'"}], "mark": {"type": "line", "strokeWidth": 1.1, "strokeDash": [3.5, 3.5], "interpolate": "monotone", "clip": true}}, {"transform": [{"filter": "datum.k === 'm'"}], "mark": {"type": "line", "strokeWidth": 1.1, "strokeDash": [3.5, 3.5], "clip": true}}, {"transform": [{"filter": "datum.k === 'l'"}], "mark": {"type": "line", "strokeWidth": 1.2, "clip": true}}, {"transform": [{"filter": "datum.k === 'b'"}], "mark": {"type": "line", "strokeWidth": 10, "strokeCap": "round", "strokeJoin": "round", "interpolate": "monotone"}}, {"transform": [{"filter": "datum.k === 'p'"}], "mark": {"type": "point", "shape": "circle", "filled": false, "size": 70, "strokeWidth": 1.3, "opacity": 1}}]},
{"data": {"name": "c3"}, "transform": [{"filter": "datum.r === 7"}], "width": 296.7, "height": 158, "layer": [{"transform": [{"filter": "datum.k === 'd'"}], "mark": {"type": "line", "strokeWidth": 1, "clip": true}, "encoding": {"x": {"field": "x", "type": "quantitative", "scale": {"domain": [0, 1]}, "axis": null}, "y": {"field": "y", "type": "quantitative", "scale": {"domain": [0, 1]}, "axis": null}}}, {"transform": [{"filter": "datum.k === 't1'"}], "mark": {"type": "text", "align": "left"}, "encoding": {"x": {"datum": 0.0506}, "y": {"datum": 0.87}, "text": {"field": "label"}}}, {"transform": [{"filter": "datum.k === 't2'"}], "mark": {"type": "text", "align": "left"}, "encoding": {"x": {"datum": 0.0506}, "y": {"datum": 0.733}, "text": {"field": "label"}}}, {"transform": [{"filter": "datum.k === 't3'"}], "mark": {"type": "text", "align": "right"}, "encoding": {"x": {"datum": 0.9596}, "y": {"datum": 0.0854}, "text": {"field": "label"}}}, {"transform": [{"filter": "datum.k === 'b'"}], "mark": {"type": "line", "strokeWidth": 10, "strokeCap": "round", "strokeJoin": "round", "interpolate": "monotone"}, "encoding": {"x": {"field": "x", "type": "quantitative"}, "y": {"field": "y", "type": "quantitative"}}}]}
]},
{"spacing": 19, "hconcat": [
{"data": {"name": "c1"}, "transform": [{"filter": "datum.r === 8"}], "width": 298.7, "height": 158, "encoding": {"x": {"field": "x", "type": "quantitative", "scale": {"domain": [0, 1]}, "axis": null}, "y": {"field": "y", "type": "quantitative", "scale": {"domain": [0, 1]}, "axis": null}}, "layer": [{"transform": [{"filter": "datum.k === 'd'"}], "mark": {"type": "line", "strokeWidth": 1.1, "strokeDash": [3.5, 3.5]}}, {"transform": [{"filter": "datum.k === 's'"}], "mark": {"type": "line", "strokeWidth": 1.2}}]},
{"data": {"name": "c2"}, "transform": [{"filter": "datum.r === 8"}], "width": 298.7, "height": 158, "encoding": {"x": {"field": "x", "type": "quantitative", "scale": {"domain": [0, 1]}, "axis": null}, "y": {"field": "y", "type": "quantitative", "scale": {"domain": [0, 1]}, "axis": null}}, "layer": [{"transform": [{"filter": "datum.k === 'c'"}], "mark": {"type": "line", "strokeWidth": 1.1, "strokeDash": [3.5, 3.5], "interpolate": "monotone", "clip": true}}, {"transform": [{"filter": "datum.k === 'm'"}], "mark": {"type": "line", "strokeWidth": 1.1, "strokeDash": [3.5, 3.5], "clip": true}}, {"transform": [{"filter": "datum.k === 'l'"}], "mark": {"type": "line", "strokeWidth": 1.2, "clip": true}}, {"transform": [{"filter": "datum.k === 'b'"}], "mark": {"type": "line", "strokeWidth": 10, "strokeCap": "round", "strokeJoin": "round", "interpolate": "monotone"}}, {"transform": [{"filter": "datum.k === 'p'"}], "mark": {"type": "point", "shape": "circle", "filled": false, "size": 70, "strokeWidth": 1.3, "opacity": 1}}]},
{"data": {"name": "c3"}, "transform": [{"filter": "datum.r === 8"}], "width": 296.7, "height": 158, "layer": [{"transform": [{"filter": "datum.k === 'd'"}], "mark": {"type": "line", "strokeWidth": 1, "clip": true}, "encoding": {"x": {"field": "x", "type": "quantitative", "scale": {"domain": [0, 1]}, "axis": null}, "y": {"field": "y", "type": "quantitative", "scale": {"domain": [0, 1]}, "axis": null}}}, {"transform": [{"filter": "datum.k === 't1'"}], "mark": {"type": "text", "align": "left"}, "encoding": {"x": {"datum": 0.0506}, "y": {"datum": 0.87}, "text": {"field": "label"}}}, {"transform": [{"filter": "datum.k === 't2'"}], "mark": {"type": "text", "align": "left"}, "encoding": {"x": {"datum": 0.0506}, "y": {"datum": 0.733}, "text": {"field": "label"}}}, {"transform": [{"filter": "datum.k === 't3'"}], "mark": {"type": "text", "align": "right"}, "encoding": {"x": {"datum": 0.9596}, "y": {"datum": 0.0854}, "text": {"field": "label"}}}, {"transform": [{"filter": "datum.k === 'b'"}], "mark": {"type": "line", "strokeWidth": 10, "strokeCap": "round", "strokeJoin": "round", "interpolate": "monotone"}, "encoding": {"x": {"field": "x", "type": "quantitative"}, "y": {"field": "y", "type": "quantitative"}}}]}
]}
]
}
